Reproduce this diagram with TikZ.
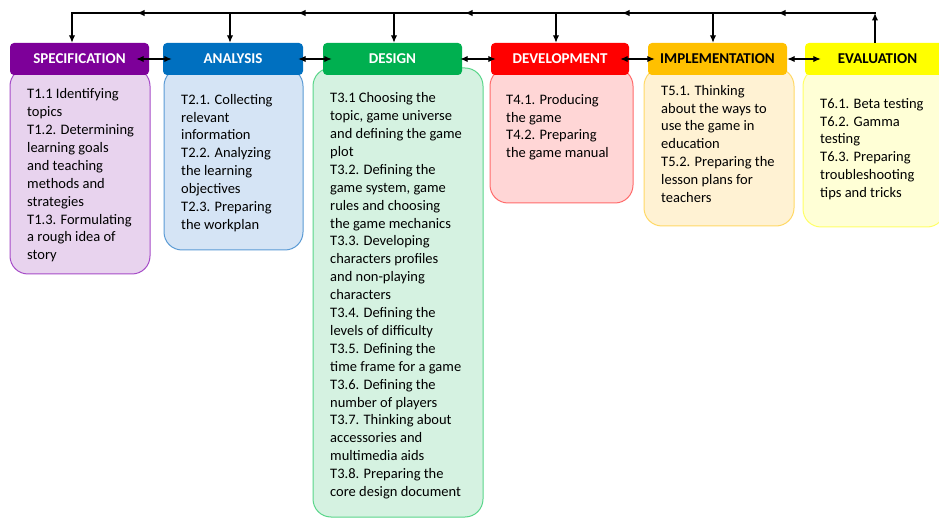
\documentclass[tikz,border=0pt]{standalone}
\usepackage{fontspec}
\setmainfont{Carlito}
\usetikzlibrary{arrows.meta}
\definecolor{specH}{HTML}{7D0099}
\definecolor{specF}{HTML}{E8D3EE}
\definecolor{specL}{HTML}{A64CC8}
\definecolor{anaH}{HTML}{0070C0}
\definecolor{anaF}{HTML}{D5E4F5}
\definecolor{anaL}{HTML}{5B9BD5}
\definecolor{desH}{HTML}{00B050}
\definecolor{desF}{HTML}{D5F2E1}
\definecolor{desL}{HTML}{5AD68A}
\definecolor{devH}{HTML}{FF0000}
\definecolor{devF}{HTML}{FFD6D6}
\definecolor{devL}{HTML}{FF6B6B}
\definecolor{impH}{HTML}{FFC000}
\definecolor{impF}{HTML}{FFF2D3}
\definecolor{impL}{HTML}{FFD966}
\definecolor{evaH}{HTML}{FFFF00}
\definecolor{evaF}{HTML}{FFFFD6}
\definecolor{evaL}{HTML}{FFFF66}
\newcommand{\firstline}{\rule{0pt}{12pt}}
\begin{document}
\begin{tikzpicture}[x=1pt,y=-1pt,
  hdr/.style={rectangle, rounded corners=4pt, minimum height=32pt, inner sep=0pt, font=\fontsize{15}{17}\selectfont\bfseries},
  bodybox/.style={rectangle, rounded corners=18pt, line width=1pt, inner sep=0pt},
  txt/.style={anchor=north west, align=left, inner sep=0pt, font=\fontsize{14.5}{17.9}\selectfont},
  arr/.style={-{Latex[length=7.5pt,width=6.5pt]}, line width=1.3pt},
  dbl/.style={{Latex[length=7.5pt,width=6.5pt]}-{Latex[length=7.5pt,width=6.5pt]}, line width=1.3pt},
  plain/.style={line width=1.3pt, line cap=rect}]
\clip (0,0) rectangle (939,518);
\fill[white] (0,0) rectangle (939,518);
% bodies
\node[bodybox, draw=specL, fill=specF, minimum width=140pt, minimum height=206pt] (specB) at (80,171) {};
\node[bodybox, draw=anaL, fill=anaF, minimum width=139pt, minimum height=182pt] (anaB) at (233.5,159) {};
\node[bodybox, draw=desL, fill=desF, minimum width=170pt, minimum height=449pt] (desB) at (398,292.5) {};
\node[bodybox, draw=devL, fill=devF, minimum width=143pt, minimum height=135pt] (devB) at (561.5,135.5) {};
\node[bodybox, draw=impL, fill=impF, minimum width=150pt, minimum height=158pt] (impB) at (719,147) {};
\node[bodybox, draw=evaL, fill=evaF, minimum width=142pt, minimum height=159pt] (evaB) at (874,147.5) {};
% headers
\node[hdr, fill=specH, text=white, minimum width=139pt] (spec) at (79.5,59) {SPECIFICATION};
\node[hdr, fill=anaH, text=white, minimum width=140pt] (ana) at (233,59) {ANALYSIS};
\node[hdr, fill=desH, text=white, minimum width=139pt] (des) at (392.5,59) {DESIGN};
\node[hdr, fill=devH, text=white, minimum width=138pt] (dev) at (560,59) {DEVELOPMENT};
\node[hdr, fill=impH, text=black, minimum width=139pt] (imp) at (717.5,59) {IMPLEMENTATION};
\node[hdr, fill=evaH, text=black, minimum width=145pt] (eva) at (877.5,59) {EVALUATION};
% texts
\node[txt] (specT) at (27,86.6) {\firstline T1.1 Identifying\\topics\\T1.2. Determining\\learning goals\\and teaching\\methods and\\strategies\\T1.3. Formulating\\a rough idea of\\story};
\node[txt] (anaT) at (181,92) {\firstline T2.1. Collecting\\relevant\\information\\T2.2. Analyzing\\the learning\\objectives\\T2.3. Preparing\\the workplan};
\node[txt] (desT) at (330,90.5) {\firstline T3.1 Choosing the\\topic, game universe\\and defining the game\\plot\\T3.2. Defining the\\game system, game\\rules and choosing\\the game mechanics\\T3.3. Developing\\characters profiles\\and non-playing\\characters\\T3.4. Defining the\\levels of difficulty\\T3.5. Defining the\\time frame for a game\\T3.6. Defining the\\number of players\\T3.7. Thinking about\\accessories and\\multimedia aids\\T3.8. Preparing the\\core design document};
\node[txt] (devT) at (506,92) {\firstline T4.1. Producing\\the game\\T4.2. Preparing\\the game manual};
\node[txt] (impT) at (661,83) {\firstline T5.1. Thinking\\about the ways to\\use the game in\\education\\T5.2. Preparing the\\lesson plans for\\teachers};
\node[txt] (evaT) at (820,96) {\firstline T6.1. Beta testing\\T6.2. Gamma\\testing\\T6.3. Preparing\\troubleshooting\\tips and tricks};
% double arrows between phases
\draw[dbl] ([xshift=-13pt]spec.east) -- ([xshift=9pt]ana.west);
\draw[dbl] ([xshift=-5pt]ana.east) -- ([xshift=9pt]des.west);
\draw[dbl] ([xshift=-2pt]des.east) -- ([xshift=5pt]dev.west);
\draw[dbl] ([xshift=-9pt]dev.east) -- ([xshift=7pt]imp.west);
\draw[dbl] (imp.east) -- ([xshift=16pt]eva.west);
% feedback loop
\coordinate (jS) at (72,13);
\coordinate (jA) at (230,13);
\coordinate (jD) at (394,13);
\coordinate (jV) at (556,13);
\coordinate (jI) at (713,13);
\coordinate (jE) at (875,13);
\coordinate (m1) at (137,13);
\coordinate (m2) at (298,13);
\coordinate (m3) at (465,13);
\coordinate (m4) at (622,13);
\coordinate (m5) at (778,13);
\draw[plain] (jE) -- (jS);
\draw[arr] (eva.north -| jE) -- (jE);
\draw[arr] (jE) -- (m5);
\draw[arr] (jI) -- (m4);
\draw[arr] (jV) -- (m3);
\draw[arr] (jD) -- (m2);
\draw[arr] (jA) -- (m1);
\draw[arr, line join=miter] (m1) -- (jS) -- (jS |- spec.north);
\draw[arr] (jA) -- (jA |- ana.north);
\draw[arr] (jD) -- (jD |- des.north);
\draw[arr] (jV) -- (jV |- dev.north);
\draw[arr] (jI) -- (jI |- imp.north);
\end{tikzpicture}
\end{document}
